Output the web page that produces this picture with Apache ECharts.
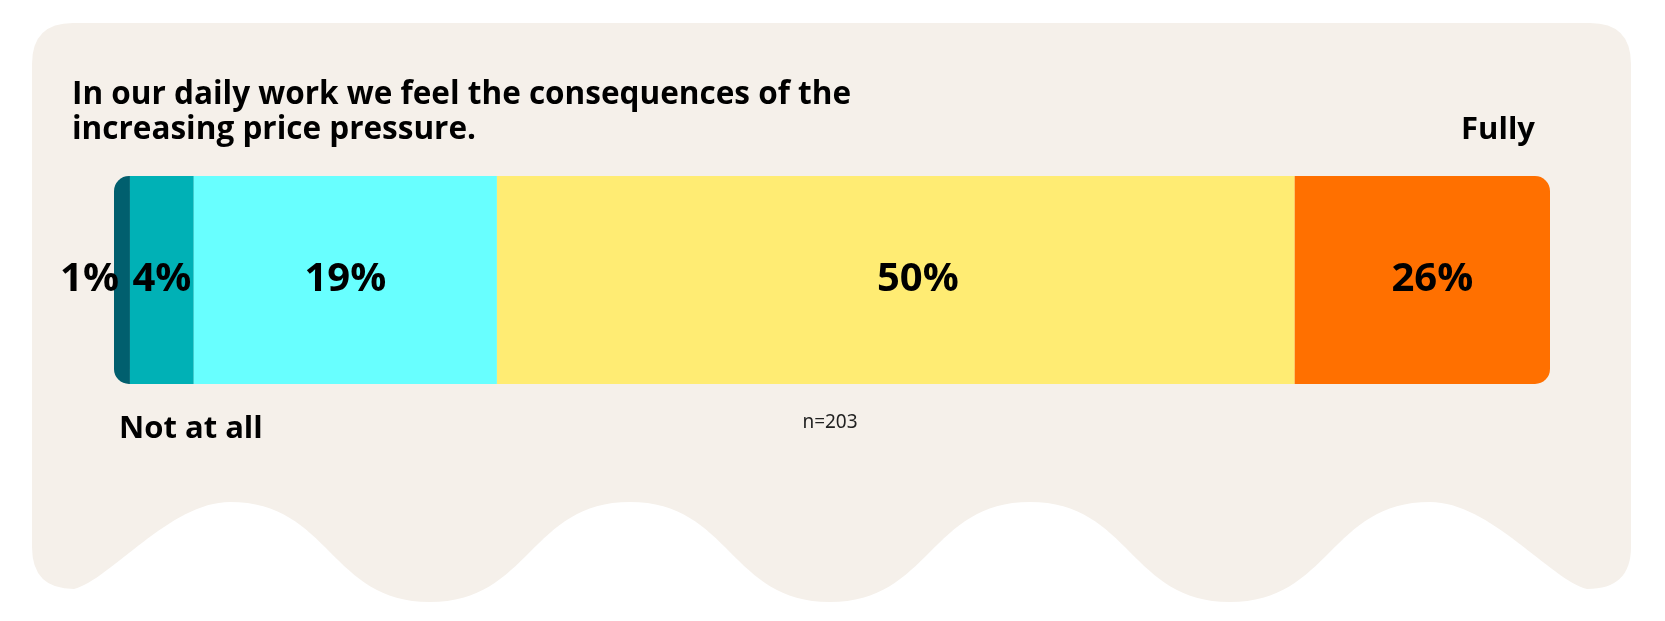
<!DOCTYPE html>
<html>
<head>
<meta charset="utf-8">
<title>Price pressure</title>
<script src="https://cdn.jsdelivr.net/npm/echarts@6/dist/echarts.min.js"></script>
<style>
  html, body { margin: 0; padding: 0; background: #fff; }
  #chart { width: 1665px; height: 621px; }
</style>
</head>
<body>
<div id="chart"></div>
<script>
    // data
    var question = 'In our daily work we feel the consequences of the\nincreasing price pressure.';
    var steps = ['Not at all', '2', '3', '4', 'Fully'];
    var shares = [1, 4, 19, 50, 26];
    var colors = ['#015f6e', '#00b1b6', '#68ffff', '#ffec73', '#ff7000'];
    var sampleNote = 'n=203';
    var axisMax = 90;   // the original axis stops at 90, so the last bar is cut

    var font = "'Open Sans', 'Noto Sans', sans-serif";
    var myChart = echarts.init(document.getElementById('chart'));

    // background card with wavy bottom
    var card = 'M 73 23 L 1590 23 Q 1631 23 1631 64 L 1631 547 Q 1631 589 1587 589 ' +
        'C 1551 580 1490 502 1430 502 ' +
        'C 1330 502 1330 602 1230 602 C 1130 602 1130 502 1030 502 ' +
        'C 930 502 930 602 830 602 C 730 602 730 502 630 502 ' +
        'C 530 502 530 602 430 602 C 330 602 330 502 230 502 ' +
        'C 170 502 110 580 74 589 Q 32 589 32 547 L 32 64 Q 32 23 73 23 Z';

    // label nudges seen in the original
    var labelShift = [0, 0, 0, 22, 10];

    var series = [];
    series.push({
        type: 'custom',
        coordinateSystem: 'none',
        silent: true,
        z: -10,
        data: [0],
        renderItem: function () {
            return {
                type: 'path',
                shape: { pathData: card, x: 32, y: 23, width: 1599, height: 579 },
                style: { fill: '#f5f0ea' }
            };
        }
    });
    for (var i = 0; i < shares.length; i++) {
        var radius = 0;
        if (i == 0) radius = [15, 0, 0, 15];
        if (i == shares.length - 1) radius = [0, 15, 15, 0];
        series.push({
            name: steps[i],
            type: 'bar',
            stack: 'all',
            barWidth: '100%',
            data: [shares[i]],
            itemStyle: { color: colors[i], borderRadius: radius },
            label: {
                show: true,
                position: i == 0 ? 'left' : 'inside',
                distance: i == 0 ? -5 : 5,
                offset: [labelShift[i], 0],
                formatter: '{c}%',
                color: '#000',
                fontSize: 40,
                fontWeight: 'bold',
                fontFamily: font
            },
            silent: true
        });
    }

    option = {
        backgroundColor: '#fff',
        animation: false,
        title: {
            text: question,
            left: 67,
            top: 73,
            textStyle: {
                color: '#000',
                fontSize: 31.5,
                fontWeight: 'bold',
                fontFamily: font,
                lineHeight: 35
            }
        },
        grid: { left: 114, right: 115, top: 176, height: 208 },
        xAxis: {
            type: 'value',
            min: 0,
            max: axisMax,
            show: false
        },
        yAxis: {
            type: 'category',
            data: ['q1'],
            show: false
        },
        graphic: [
            {
                type: 'text', x: 1535, y: 130,
                style: {
                    text: steps[4], align: 'right', verticalAlign: 'middle',
                    fill: '#000', font: 'bold 31px ' + font
                }
            },
            {
                type: 'text', x: 119, y: 429,
                style: {
                    text: steps[0], align: 'left', verticalAlign: 'middle',
                    fill: '#000', font: 'bold 31px ' + font
                }
            },
            {
                type: 'text', x: 830, y: 423,
                style: {
                    text: sampleNote, align: 'center', verticalAlign: 'middle',
                    fill: '#222', font: "19px 'Noto Sans', sans-serif"
                }
            }
        ],
        series: series
    };

    myChart.setOption(option);
</script>
</body>
</html>
